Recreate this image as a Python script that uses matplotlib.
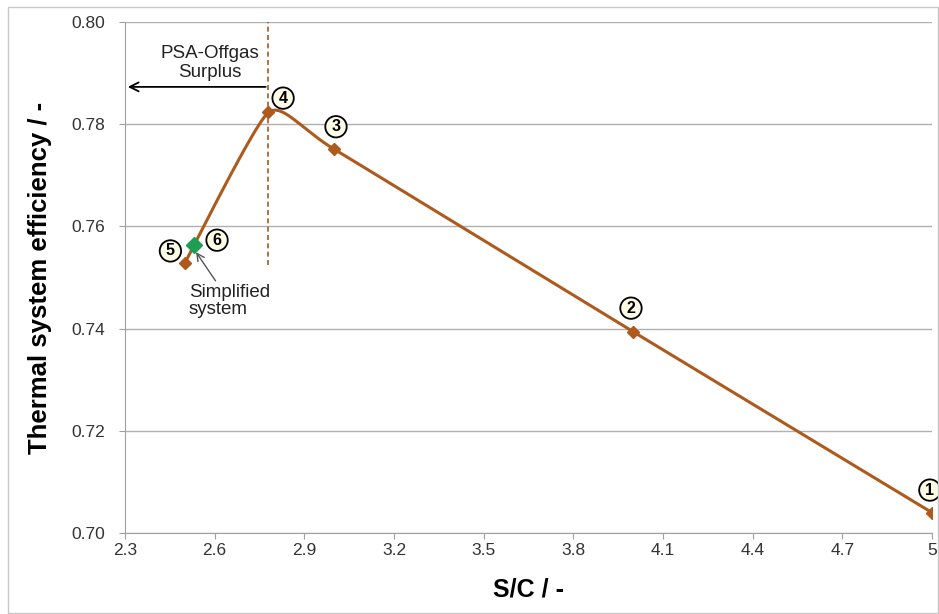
import numpy as np
import matplotlib
matplotlib.use('Agg')
import matplotlib.pyplot as plt
from matplotlib.patches import Rectangle

plt.rcParams['font.family'] = ['Liberation Sans', 'DejaVu Sans']

# operating points (brown series), ordered by S/C
sc_values = [2.5, 2.78, 3.0, 4.0, 5.0]
eff_values = [0.7528, 0.7823, 0.7751, 0.7394, 0.7040]
# simplified system (green point)
simple_sc = [2.53]
simple_eff = [0.7564]
# label positions for circled numbers
label_sc = [2.452, 2.829, 3.006, 3.993, 4.993, 2.608]
label_eff = [0.7552, 0.7851, 0.7795, 0.7440, 0.7084, 0.7573]
label_ids = ['5', '4', '3', '2', '1', '6']
x_ticks = [2.3, 2.6, 2.9, 3.2, 3.5, 3.8, 4.1, 4.4, 4.7, 5.0]
y_ticks = [0.70, 0.72, 0.74, 0.76, 0.78, 0.80]
surplus_sc = 2.78

brown = '#AD5A1C'
green = '#1E9E52'


def smooth_curve(xs, ys, k=1 / 11, n=60):
    # bezier smoothing through the points (like excel's "smoothed line")
    pts = np.column_stack([xs, ys])
    out = []
    for i in range(len(pts) - 1):
        p0 = pts[i - 1] if i > 0 else pts[i]
        p1 = pts[i]
        p2 = pts[i + 1]
        p3 = pts[i + 2] if i + 2 < len(pts) else pts[i + 1]
        c1 = p1 + (p2 - p0) * k
        c2 = p2 - (p3 - p1) * k
        t = np.linspace(0, 1, n)[:, None]
        seg = ((1 - t) ** 3) * p1 + 3 * ((1 - t) ** 2) * t * c1 + 3 * (1 - t) * t ** 2 * c2 + t ** 3 * p2
        out.append(seg)
    out = np.vstack(out)
    return out[:, 0], out[:, 1]


fig = plt.figure(figsize=(9.39, 6.14), dpi=100)
ax = fig.add_axes([0.1331, 0.1319, 0.8594, 0.8323])

# chart border
fig.patches.append(Rectangle((0.009, 0.002), 0.99, 0.986, transform=fig.transFigure,
                             fill=False, edgecolor='#c8c8c8', lw=1))

ax.set_xlim(2.3, 5.0)
ax.set_ylim(0.70, 0.80)
ax.set_xticks(x_ticks)
ax.set_xticklabels([f'{v:g}' for v in x_ticks])
ax.set_yticks(y_ticks)
ax.set_yticklabels([f'{v:.2f}' for v in y_ticks])
ax.tick_params(axis='both', labelsize=12.5, colors='#333333', length=4, color='#a0a0a0', direction='out')
ax.tick_params(axis='y', pad=10)
ax.tick_params(axis='x', pad=3)
ax.grid(axis='y', color='#b0b0b0', lw=1)
ax.set_axisbelow(True)
for s in ['top', 'right']:
    ax.spines[s].set_visible(False)
for s in ['left', 'bottom']:
    ax.spines[s].set_color('#a0a0a0')

ax.set_xlabel('S/C / -', fontsize=18, fontweight='bold', labelpad=14)
ax.set_ylabel('Thermal system efficiency / -', fontsize=18.5, fontweight='bold', labelpad=14)

cx, cy = smooth_curve(sc_values, eff_values)
ax.plot(cx, cy, color=brown, lw=2.2, zorder=3)
ax.plot(sc_values, eff_values, ls='none', marker='D', ms=6.5, color=brown, zorder=4)
ax.plot(simple_sc, simple_eff, ls='none', marker='D', ms=8, color=green, zorder=5)

# surplus limit line and arrow
ax.plot([surplus_sc, surplus_sc], [0.7525, 0.80], color=brown, lw=1.2, ls=(0, (3, 2)), zorder=2)
ax.annotate('', xy=(2.3, 0.7873), xytext=(surplus_sc, 0.7873),
            arrowprops=dict(arrowstyle='->', color='black', lw=1.3, mutation_scale=16))
ax.text(2.584, 0.7920, 'PSA-Offgas\nSurplus', ha='center', va='center', fontsize=13.5,
        color='#222222', linespacing=1.1)

# simplified system note
ax.annotate('Simplified\nsystem', xy=(2.535, 0.7552), xytext=(2.513, 0.7488),
            ha='left', va='top', fontsize=13.5, color='#222222', linespacing=1.05,
            arrowprops=dict(arrowstyle='->', color='#555555', lw=1, shrinkA=0, shrinkB=1))

for lx, ly, lab in zip(label_sc, label_eff, label_ids):
    ax.text(lx, ly, lab, ha='center', va='center', fontsize=11.5, fontweight='bold', zorder=6,
            bbox=dict(boxstyle='circle,pad=0.2', fc='#fbfbe6', ec='black', lw=1.3))

fig.savefig('out.png', dpi=100)
